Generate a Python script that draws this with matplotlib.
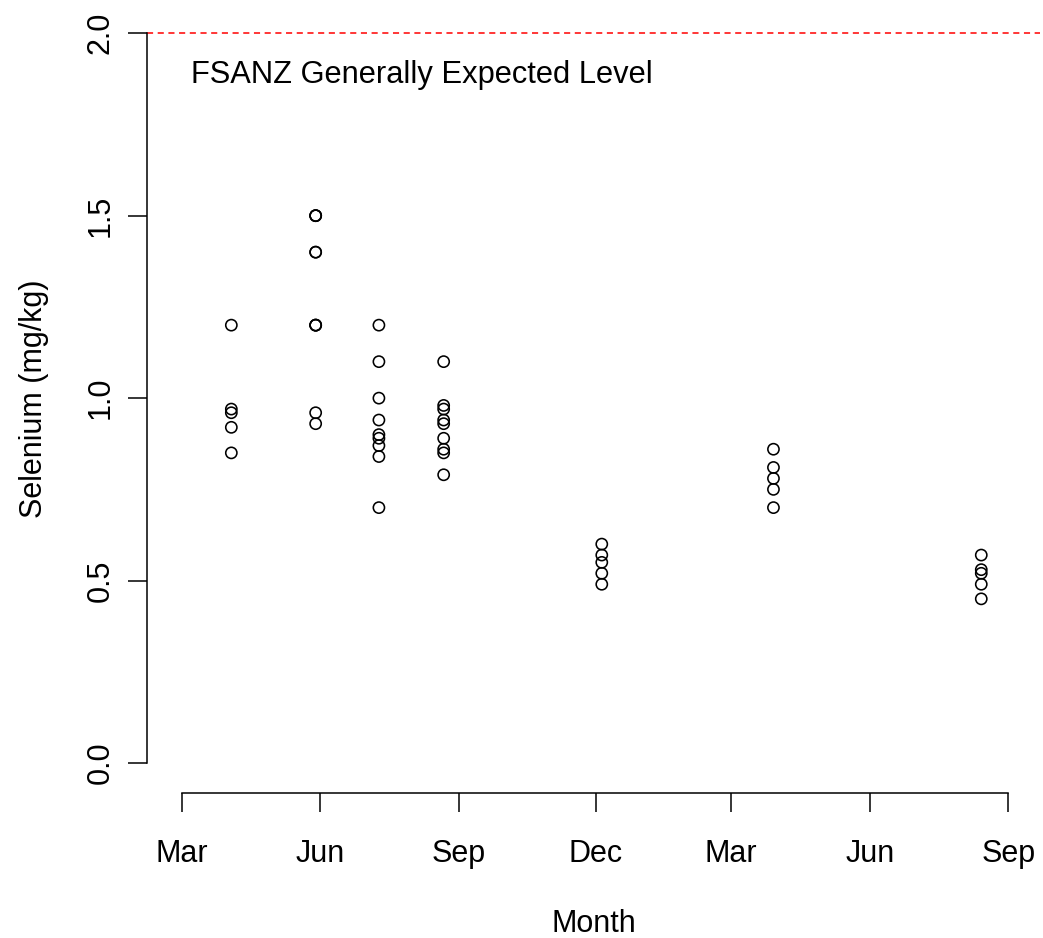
import datetime as dt
import matplotlib
matplotlib.use("Agg")
import matplotlib.pyplot as plt
import matplotlib.dates as mdates

plt.rcParams['font.family'] = ['Liberation Sans', 'DejaVu Sans']

# sampling dates and selenium results (mg/kg)
sample_dates = ["2012-04-03", "2012-05-29", "2012-07-10", "2012-08-22",
                "2012-12-05", "2013-03-29", "2013-08-14"]
selenium = [
    [1.20, 0.97, 0.96, 0.92, 0.85],
    [1.50, 1.50, 1.50, 1.40, 1.40, 1.20, 1.20, 1.20, 0.96, 0.93],
    [1.20, 1.10, 1.00, 0.94, 0.90, 0.89, 0.87, 0.84, 0.70],
    [1.10, 0.98, 0.97, 0.94, 0.93, 0.89, 0.86, 0.85, 0.79],
    [0.60, 0.57, 0.55, 0.52, 0.49],
    [0.86, 0.81, 0.78, 0.75, 0.70],
    [0.57, 0.53, 0.52, 0.49, 0.45],
]
expected_level = 2.0
tick_dates = ["2012-03-01", "2012-06-01", "2012-09-01", "2012-12-01",
              "2013-03-01", "2013-06-01", "2013-09-01"]
tick_labels = ["Mar", "Jun", "Sep", "Dec", "Mar", "Jun", "Sep"]

def to_num(s):
    return mdates.date2num(dt.datetime.strptime(s, "%Y-%m-%d"))

xs, ys = [], []
for d, vals in zip(sample_dates, selenium):
    for v in vals:
        xs.append(to_num(d))
        ys.append(v)

fig = plt.figure(figsize=(10.43, 9.38), dpi=100)
ax = fig.add_axes([147 / 1043, 145 / 938, 893 / 1043, 789 / 938])

ax.scatter(xs, ys, s=65, facecolors='none', edgecolors='black', linewidths=1.15, zorder=3)
ax.axhline(expected_level, color='red', linestyle=(0, (4, 3)), linewidth=1.1)
ax.text(to_num("2012-03-07"), 1.885, "FSANZ Generally Expected Level",
        fontsize=22.2, va='center', ha='left')

ax.set_xlim(to_num("2012-02-07"), to_num("2013-09-22"))
ax.set_ylim(-0.082, 2.08)

ticks = [to_num(t) for t in tick_dates]
ax.set_xticks(ticks)
ax.set_xticklabels(tick_labels, fontsize=22)
ax.set_yticks([0.0, 0.5, 1.0, 1.5, 2.0])
ax.set_yticklabels(["0.0", "0.5", "1.0", "1.5", "2.0"], fontsize=22,
                   rotation=90, va='center')

for side in ['top', 'right']:
    ax.spines[side].set_visible(False)
ax.spines['left'].set_bounds(0, 2)
ax.spines['bottom'].set_bounds(ticks[0], ticks[-1])
ax.tick_params(axis='both', direction='out', length=13.7, width=1.1)
ax.tick_params(axis='y', pad=9)
ax.tick_params(axis='x', pad=19.5)
ax.spines['left'].set_linewidth(1.1)
ax.spines['bottom'].set_linewidth(1.1)

ax.set_xlabel("Month", fontsize=22, labelpad=28.5)
ax.set_ylabel("Selenium (mg/kg)", fontsize=22, labelpad=26)

fig.savefig("out.png", dpi=100)
